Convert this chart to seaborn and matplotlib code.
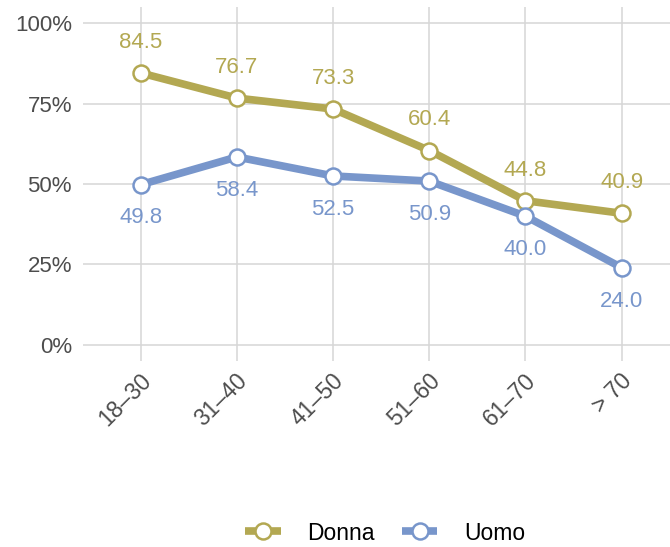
import matplotlib
matplotlib.use("Agg")
import matplotlib.pyplot as plt
import matplotlib.transforms as mtransforms
import seaborn as sns
import pandas as pd
from matplotlib.lines import Line2D

categories = ["18–30", "31–40", "41–50", "51–60", "61–70", "> 70"]
donna = [84.5, 76.7, 73.3, 60.4, 44.8, 40.9]
uomo = [49.8, 58.4, 52.5, 50.9, 40.0, 24.0]
yticks = [0, 25, 50, 75, 100]
ytick_labels = ["0%", "25%", "50%", "75%", "100%"]

c_donna = "#b3a852"
c_uomo = "#7896cb"

sns.set_theme(style="whitegrid")
plt.rcParams['font.family'] = ['Liberation Sans', 'DejaVu Sans']

df = pd.DataFrame({
    "cat": categories * 2,
    "x": list(range(len(categories))) * 2,
    "val": donna + uomo,
    "sesso": ["Donna"] * len(categories) + ["Uomo"] * len(categories),
})

W, H = 670, 547
fig = plt.figure(figsize=(W/100, H/100), dpi=100)
ax = fig.add_axes([83/W, 1 - 361/H, 596.4/W, 354/H])

palette = {"Donna": c_donna, "Uomo": c_uomo}
sns.lineplot(data=df, x="x", y="val", hue="sesso", palette=palette, ax=ax,
             linewidth=5.5, marker="o", markersize=11.5, markerfacecolor="white",
             markeredgewidth=1.8, legend=False, zorder=3)
for line, col in zip(ax.lines, [c_donna, c_uomo]):
    line.set_markeredgecolor(col)

for i, v in enumerate(donna):
    ax.annotate(f"{v:.1f}", (i, v), xytext=(0, 22), textcoords="offset points",
                ha="center", va="center", color=c_donna, fontsize=16)
for i, v in enumerate(uomo):
    ax.annotate(f"{v:.1f}", (i, v), xytext=(0, -24), textcoords="offset points",
                ha="center", va="center", color=c_uomo, fontsize=16)

ax.set_xlim(-0.6, 5.6)
ax.set_ylim(-5, 105)
ax.set_xticks(range(len(categories)))
ax.set_xticklabels(categories, rotation=45, ha="right", va="center", rotation_mode="anchor")
ax.set_yticks(yticks)
ax.set_yticklabels(ytick_labels)
ax.tick_params(axis="both", labelsize=16, labelcolor="#4d4d4d", length=0)
ax.tick_params(axis="x", labelsize=16.5, pad=12)
ax.tick_params(axis="y", pad=8)
ax.set_xlabel("")
ax.set_ylabel("")
ax.grid(True, color="#d6d6d6", linewidth=1.1)
for s in ax.spines.values():
    s.set_visible(False)
ax.set_facecolor("white")

offset = mtransforms.ScaledTranslation(7/100, 0, fig.dpi_scale_trans)
for lab in ax.get_xticklabels():
    lab.set_transform(lab.get_transform() + offset)

handles = [
    Line2D([0], [0], color=c_donna, lw=5.5, marker="o", markersize=11.5, solid_capstyle="butt",
           markerfacecolor="white", markeredgecolor=c_donna, markeredgewidth=1.8),
    Line2D([0], [0], color=c_uomo, lw=5.5, marker="o", markersize=11.5, solid_capstyle="butt",
           markerfacecolor="white", markeredgecolor=c_uomo, markeredgewidth=1.8),
]
fig.legend(handles, ["Donna", "Uomo"], loc="center", bbox_to_anchor=(385/W, 1 - 533/H),
           ncol=2, frameon=False, fontsize=16.5, handlelength=1.55, columnspacing=1.2,
           handletextpad=1.15, labelcolor="black")

fig.savefig("out.png", dpi=100, facecolor="white")
